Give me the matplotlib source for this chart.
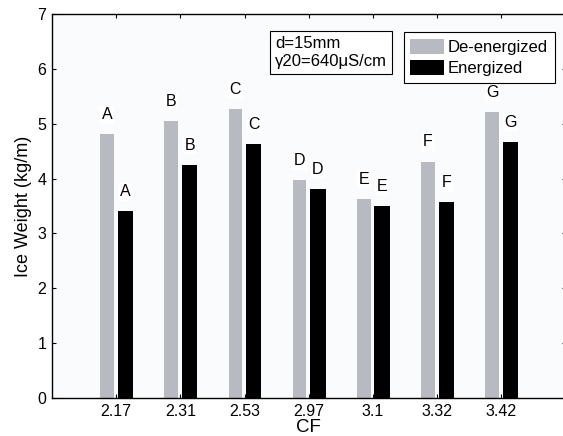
import matplotlib
matplotlib.use("Agg")
import matplotlib.pyplot as plt
import numpy as np

categories = ["2.17", "2.31", "2.53", "2.97", "3.1", "3.32", "3.42"]
de_energized = [4.81, 5.05, 5.27, 3.97, 3.63, 4.31, 5.21]
energized = [3.40, 4.25, 4.63, 3.81, 3.50, 3.57, 4.67]
group_letters = ["A", "B", "C", "D", "E", "F", "G"]

plt.rcParams['font.family'] = ['Liberation Sans', 'DejaVu Sans']

fig = plt.figure(figsize=(5.63, 4.36), dpi=100)
ax = fig.add_axes([52/563, 38/436, 513.6/563, 384/436])
ax.set_facecolor('#fafbfd')

x = np.arange(1, len(categories) + 1)
off = 0.143
grey = '#b7bbc1'
ax.bar(x - off, de_energized, width=0.21, color=grey, label='De-energized', zorder=2)
ax.bar(x + off, energized, width=0.24, color='black', label='Energized', zorder=2)

lab_off = 0.22
for xi, v1, v2, g in zip(x, de_energized, energized, group_letters):
    ax.text(xi - off, v1 + lab_off, g, ha='center', va='bottom', fontsize=11.5, zorder=3,
            bbox=dict(facecolor='white', edgecolor='none', pad=1.0))
    ax.text(xi + off, v2 + lab_off, g, ha='center', va='bottom', fontsize=11.5, zorder=3,
            bbox=dict(facecolor='white', edgecolor='none', pad=1.0))

ax.set_xlim(0, 8)
ax.set_ylim(0, 7)
ax.set_xticks(x)
ax.set_xticklabels(categories, fontsize=11.5)
ax.set_yticks(range(0, 8))
ax.set_yticklabels([str(i) for i in range(0, 8)], fontsize=11.5)
ax.tick_params(direction='in', length=3, width=0.8, top=True, right=True, pad=4)
for s in ax.spines.values():
    s.set_linewidth(1.0)
    s.set_zorder(5)

ax.set_xlabel('CF', fontsize=13.5, labelpad=0)
ax.set_ylabel('Ice Weight (kg/m)', fontsize=13, labelpad=4)

ax.text(0.434, 0.942, 'd=15mm\n\u03b320=640\u03bcS/cm', transform=ax.transAxes,
        ha='left', va='top', fontsize=12, linespacing=1.25, zorder=6,
        bbox=dict(boxstyle='square,pad=0.3', facecolor='white', edgecolor='black', linewidth=0.8))

leg = ax.legend(loc='upper left', bbox_to_anchor=(0.685, 0.953), borderaxespad=0,
                fontsize=12, fancybox=False, edgecolor='black', framealpha=1,
                handlelength=2.0, handleheight=1.0, handletextpad=0.25,
                labelspacing=0.3, borderpad=0.4)
leg.get_frame().set_linewidth(0.8)
leg.set_zorder(6)

fig.savefig('out.png', dpi=100, facecolor='white')
